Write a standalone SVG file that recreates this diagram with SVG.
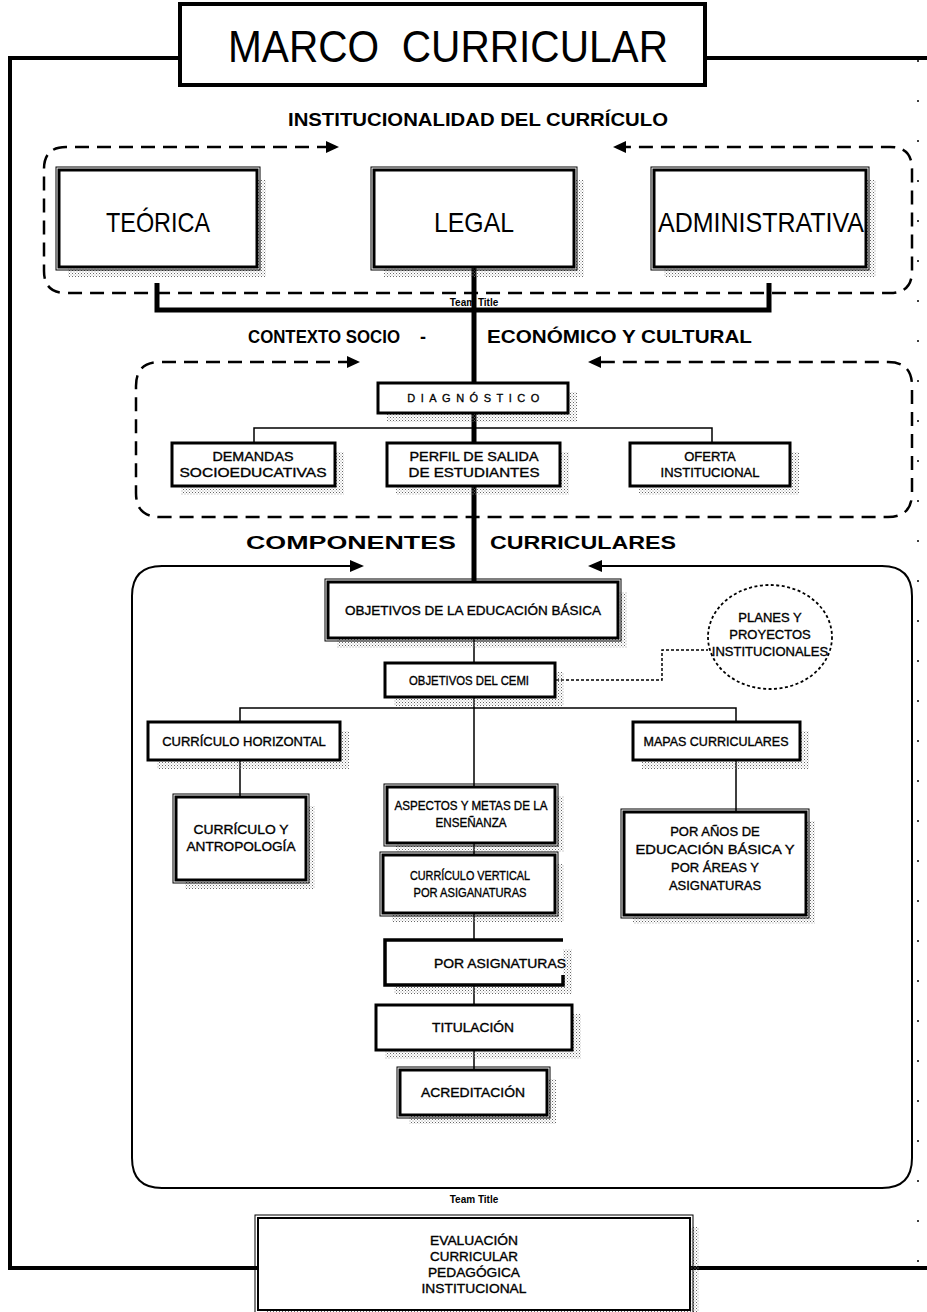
<svg xmlns="http://www.w3.org/2000/svg" width="927" height="1312" viewBox="0 0 927 1312">
<defs>
<pattern id="ht" width="3" height="3" patternUnits="userSpaceOnUse">
<rect x="0" y="0" width="1" height="1" fill="#666"/>
<rect x="1.5" y="1.5" width="1" height="1" fill="#999"/>
</pattern>
<style>
text{font-family:"Liberation Sans",Arial,sans-serif;fill:#000;text-anchor:middle}
.t{font-size:13px;stroke:#000;stroke-width:0.35}
.h{font-size:18px;font-weight:bold;text-anchor:start}
.big{font-size:28px}
.tt{font-size:10px;font-weight:bold}
.box{fill:#fff;stroke:#000;stroke-width:3}
.out{fill:none;stroke:#000;stroke-width:1}
.sh{fill:url(#ht)}
.ln{fill:none;stroke:#000;stroke-width:1.5}
.thick{fill:none;stroke:#000;stroke-width:5}
.dash{fill:none;stroke:#000;stroke-width:2.5;stroke-dasharray:14 8}
.solid{fill:none;stroke:#000;stroke-width:2}
.dot{fill:none;stroke:#000;stroke-width:1.5;stroke-dasharray:3 2}
.frame{fill:none;stroke:#000;stroke-width:4}
</style>
</defs>
<rect width="927" height="1312" fill="#fff"/>

<g id="frames">
<path class="frame" d="M180,58 H10 V1268 H258 M705,58 H927 M690,1268 H927"/>
<path class="dash" d="M331,147 H66 Q44,147 44,169 V271 Q44,293 66,293 H890 Q912,293 912,271 V169 Q912,147 890,147 H621"/>
<polygon points="339,147 326,141 326,153"/>
<polygon points="613,147 626,141 626,153"/>
<path class="dash" d="M352,362 H160 Q136,362 136,386 V493 Q136,517 160,517 H888 Q912,517 912,493 V386 Q912,362 888,362 H596"/>
<polygon points="360,362 347,356 347,368"/>
<polygon points="588,362 601,356 601,368"/>
<path class="solid" d="M355,566 H162 Q132,566 132,596 V1158 Q132,1188 162,1188 H882 Q912,1188 912,1158 V596 Q912,566 882,566 H597"/>
<polygon points="364,566 350,560 350,572"/>
<polygon points="588,566 602,560 602,572"/>
<path d="M918,60 V1270" fill="none" stroke="#000" stroke-width="1.5" stroke-dasharray="2 38"/>
</g>

<g id="labels">
<text class="h" x="288" y="126" textLength="380" lengthAdjust="spacingAndGlyphs">INSTITUCIONALIDAD DEL CURRÍCULO</text>
<text class="h" x="248" y="343" textLength="152" lengthAdjust="spacingAndGlyphs">CONTEXTO SOCIO</text>
<text class="h" x="420" y="343">-</text>
<text class="h" x="487" y="343" textLength="265" lengthAdjust="spacingAndGlyphs">ECONÓMICO Y CULTURAL</text>
<text class="h" x="246" y="549" textLength="210" lengthAdjust="spacingAndGlyphs">COMPONENTES</text>
<text class="h" x="490" y="549" textLength="186" lengthAdjust="spacingAndGlyphs">CURRICULARES</text>
<text class="tt" x="474" y="306">Team Title</text>
<text class="tt" x="474" y="1203">Team Title</text>
</g>

<g id="connectors">
<path class="thick" d="M157,283 V310 H769 V283 M474,268 V383"/>
<path class="thick" d="M474,413 V443 M474,486 V582"/>
<path class="ln" d="M254,443 V428 H712 V443" stroke-width="2.5"/>
<path class="ln" d="M474,638 V663 M474,697 V787 M240,722 V708 H736 V722 M240,760 V797 M736,760 V812 M474,843 V855 M474,913 V940 M474,985 V1005 M474,1050 V1070"/>
<path class="dot" d="M556,680 H662 V650 H708"/>
</g>

<g id="title">
<rect x="180" y="4" width="525" height="81" fill="#fff" stroke="#000" stroke-width="4"/>
<text x="448" y="62" font-size="44" textLength="440" lengthAdjust="spacingAndGlyphs">MARCO&#160; CURRICULAR</text>
</g>

<g id="teorica">
<rect class="sh" x="68" y="180" width="198" height="97"/>
<rect class="out" x="56" y="167" width="204" height="103"/>
<rect class="box" x="59" y="170" width="198" height="97"/>
<text class="big" x="158" y="232" textLength="104" lengthAdjust="spacingAndGlyphs">TEÓRICA</text>
</g>
<g id="legal">
<rect class="sh" x="384" y="180" width="200" height="97"/>
<rect class="out" x="371" y="167" width="206" height="103"/>
<rect class="box" x="374" y="170" width="200" height="97"/>
<text class="big" x="474" y="232" textLength="80" lengthAdjust="spacingAndGlyphs">LEGAL</text>
</g>
<g id="administrativa">
<rect class="sh" x="664" y="180" width="212" height="97"/>
<rect class="out" x="651" y="167" width="218" height="103"/>
<rect class="box" x="654" y="170" width="212" height="97"/>
<text class="big" x="761" y="232" textLength="206" lengthAdjust="spacingAndGlyphs">ADMINISTRATIVA</text>
</g>

<g id="diagnostico">
<rect class="sh" x="387" y="392" width="190" height="30"/>
<rect class="box" x="378" y="383" width="190" height="30"/>
<text x="476" y="402" font-size="11" letter-spacing="5.5" stroke="#000" stroke-width="0.3">DIAGNÓSTICO</text>
</g>
<g id="demandas">
<rect class="sh" x="181" y="452" width="163" height="43"/>
<rect class="box" x="172" y="443" width="163" height="43"/>
<text class="t" x="253" y="461" textLength="81" lengthAdjust="spacingAndGlyphs">DEMANDAS</text>
<text class="t" x="253" y="477" textLength="147" lengthAdjust="spacingAndGlyphs">SOCIOEDUCATIVAS</text>
</g>
<g id="perfil">
<rect class="sh" x="396" y="452" width="173" height="43"/>
<rect class="box" x="387" y="443" width="173" height="43"/>
<text class="t" x="474" y="461" textLength="129" lengthAdjust="spacingAndGlyphs">PERFIL DE SALIDA</text>
<text class="t" x="474" y="477" textLength="131" lengthAdjust="spacingAndGlyphs">DE ESTUDIANTES</text>
</g>
<g id="oferta">
<rect class="sh" x="639" y="452" width="160" height="43"/>
<rect class="box" x="630" y="443" width="160" height="43"/>
<text class="t" x="710" y="461">OFERTA</text>
<text class="t" x="710" y="477">INSTITUCIONAL</text>
</g>

<g id="objetivos-edu">
<rect class="sh" x="337" y="592" width="290" height="56"/>
<rect class="out" x="325" y="579" width="296" height="62"/>
<rect class="box" x="328" y="582" width="290" height="56"/>
<text class="t" x="473" y="615" textLength="256" lengthAdjust="spacingAndGlyphs">OBJETIVOS DE LA EDUCACIÓN BÁSICA</text>
</g>
<g id="planes">
<ellipse cx="770" cy="637" rx="62" ry="52" fill="none" stroke="#000" stroke-width="1.8" stroke-dasharray="3 2.5"/>
<text class="t" x="770" y="622">PLANES Y</text>
<text class="t" x="770" y="639">PROYECTOS</text>
<text class="t" x="770" y="656">INSTITUCIONALES</text>
</g>
<g id="cemi">
<rect class="sh" x="394" y="672" width="170" height="34"/>
<rect class="box" x="385" y="663" width="170" height="34"/>
<text class="t" x="469" y="685" textLength="120" lengthAdjust="spacingAndGlyphs">OBJETIVOS DEL CEMI</text>
</g>
<g id="curr-horizontal">
<rect class="sh" x="157" y="731" width="192" height="38"/>
<rect class="box" x="148" y="722" width="192" height="38"/>
<text class="t" x="244" y="746">CURRÍCULO HORIZONTAL</text>
</g>
<g id="mapas">
<rect class="sh" x="642" y="731" width="167" height="38"/>
<rect class="box" x="633" y="722" width="167" height="38"/>
<text class="t" x="716" y="746" textLength="145" lengthAdjust="spacingAndGlyphs">MAPAS CURRICULARES</text>
</g>
<g id="antropologia">
<rect class="sh" x="185" y="806" width="130" height="83"/>
<rect class="out" x="173" y="794" width="136" height="89"/>
<rect class="box" x="176" y="797" width="130" height="83"/>
<text class="t" x="241" y="834" textLength="95" lengthAdjust="spacingAndGlyphs">CURRÍCULO Y</text>
<text class="t" x="241" y="851" textLength="109" lengthAdjust="spacingAndGlyphs">ANTROPOLOGÍA</text>
</g>
<g id="aspectos">
<rect class="sh" x="396" y="796" width="168" height="56"/>
<rect class="out" x="384" y="784" width="174" height="62"/>
<rect class="box" x="387" y="787" width="168" height="56"/>
<text class="t" x="471" y="810" textLength="153" lengthAdjust="spacingAndGlyphs">ASPECTOS Y METAS DE LA</text>
<text class="t" x="471" y="827" textLength="71" lengthAdjust="spacingAndGlyphs">ENSEÑANZA</text>
</g>
<g id="por-anos">
<rect class="sh" x="633" y="821" width="182" height="103"/>
<rect class="out" x="621" y="809" width="188" height="109"/>
<rect class="box" x="624" y="812" width="182" height="103"/>
<text class="t" x="715" y="836" font-size="14.5">POR AÑOS DE</text>
<text class="t" x="715" y="854" textLength="159" lengthAdjust="spacingAndGlyphs" font-size="14.5">EDUCACIÓN BÁSICA Y</text>
<text class="t" x="715" y="872" font-size="14.5">POR ÁREAS Y</text>
<text class="t" x="715" y="890" font-size="14.5">ASIGNATURAS</text>
</g>
<g id="curr-vertical">
<rect class="sh" x="392" y="864" width="172" height="58"/>
<rect class="out" x="380" y="852" width="178" height="64"/>
<rect class="box" x="383" y="855" width="172" height="58"/>
<text class="t" x="470" y="880" textLength="120" lengthAdjust="spacingAndGlyphs">CURRÍCULO VERTICAL</text>
<text class="t" x="470" y="897" textLength="113" lengthAdjust="spacingAndGlyphs">POR ASIGANATURAS</text>
</g>
<g id="por-asignaturas">
<rect class="sh" x="394" y="949" width="178" height="45"/>
<rect x="385" y="940" width="178" height="45" fill="#fff"/>
<path d="M563,940 H385 V985 H563 V975" fill="none" stroke="#000" stroke-width="3.5"/>
<text class="t" x="500" y="968" textLength="132" lengthAdjust="spacingAndGlyphs">POR ASIGNATURAS</text>
</g>
<g id="titulacion">
<rect class="sh" x="385" y="1014" width="196" height="45"/>
<rect class="box" x="376" y="1005" width="196" height="45"/>
<text class="t" x="473" y="1032" textLength="82" lengthAdjust="spacingAndGlyphs">TITULACIÓN</text>
</g>
<g id="acreditacion">
<rect class="sh" x="409" y="1079" width="147" height="45"/>
<rect class="out" x="397" y="1067" width="153" height="51"/>
<rect class="box" x="400" y="1070" width="147" height="45"/>
<text class="t" x="473" y="1097" textLength="104" lengthAdjust="spacingAndGlyphs">ACREDITACIÓN</text>
</g>
<g id="evaluacion">
<rect class="sh" x="267" y="1227" width="432" height="92"/>
<rect class="out" x="255" y="1215" width="438" height="98"/>
<rect x="258" y="1218" width="432" height="92" fill="#fff" stroke="#000" stroke-width="2"/>
<text class="t" x="474" y="1245" textLength="88" lengthAdjust="spacingAndGlyphs">EVALUACIÓN</text>
<text class="t" x="474" y="1261" textLength="88" lengthAdjust="spacingAndGlyphs">CURRICULAR</text>
<text class="t" x="474" y="1277" textLength="92" lengthAdjust="spacingAndGlyphs">PEDAGÓGICA</text>
<text class="t" x="474" y="1293" textLength="105" lengthAdjust="spacingAndGlyphs">INSTITUCIONAL</text>
</g>
</svg>
